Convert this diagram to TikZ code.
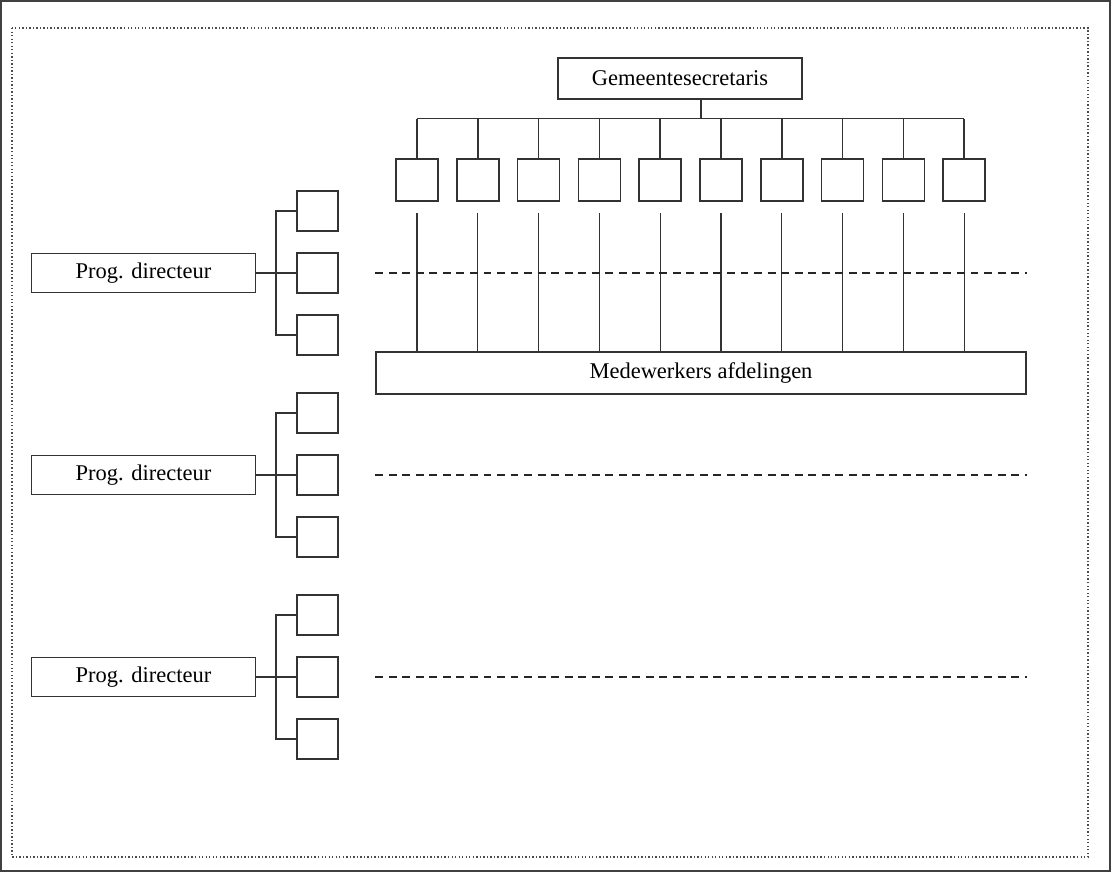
\documentclass[tikz,border=0pt]{standalone}
\usepackage{fontspec}
\setmainfont{Liberation Serif}
\usetikzlibrary{positioning, calc}

\begin{document}
\begin{tikzpicture}[
  x=0.02cm, y=-0.02cm,
  font=\fontsize{12.8}{15}\selectfont,
  box/.style={rectangle, draw=black!80, line width=0.9pt, inner sep=0pt, align=center},
  unit/.style={box, minimum width=0.84cm, minimum height=0.84cm},
  sub/.style={box, minimum width=0.82cm, minimum height=0.80cm},
  prog/.style={box, minimum width=4.48cm, minimum height=0.78cm},
  lnk/.style={line width=0.9pt, draw=black!80},
  feed/.style={line width=0.6pt, draw=black!80},
  plan/.style={line width=0.8pt, draw=black!85, dash pattern=on 4.5pt off 3.2pt}
]
  \useasboundingbox (0,0) rectangle (1111,873);
  % page frame
  \draw[line width=1.4pt, black!75] (1,1) rectangle (1110,871);
  \draw[line width=0.9pt, black!70, dash pattern=on 0.8pt off 1.2pt] (12,28) rectangle (1088,857);

  \node[box, minimum width=4.88cm, minimum height=0.82cm] (gs) at (680,78.5) {Gemeentesecretaris};
  \foreach \i in {1,...,10}
    \node[unit] (u\i) at ({417+60.8*(\i-1)},180) {};
  \node[box, minimum width=13.0cm, minimum height=0.84cm] (mw) at (701,373) {Medewerkers afdelingen};

  \coordinate (bus) at (701,118.5);
  \draw[lnk] (gs.south -| bus) -- (bus);
  \draw[lnk] (u1.north |- bus) -- (u10.north |- bus);
  \foreach \i in {1,...,10} {
    \draw[lnk] (u\i.north) -- (u\i.north |- bus);
    \draw[feed] ($(u\i.south)+(0,11)$) -- (u\i.south |- mw.north);
  }

  % programme directors
  \foreach \g in {1,2,3} {
    \node[prog] (p\g) at (143.5,{273+202*(\g-1)}) {Prog. directeur};
    \node[sub, right=0.8cm of p\g] (b\g) {};
    \node[sub, above=0.41cm of b\g] (a\g) {};
    \node[sub, below=0.41cm of b\g] (c\g) {};
    \draw[lnk] (p\g.east) -- (b\g.west);
    \draw[lnk] (a\g.west) -- ++(-20,0) |- (c\g.west);
    \draw[plan] (mw.west |- p\g.east) -- (mw.east |- p\g.east);
  }
\end{tikzpicture}
\end{document}
